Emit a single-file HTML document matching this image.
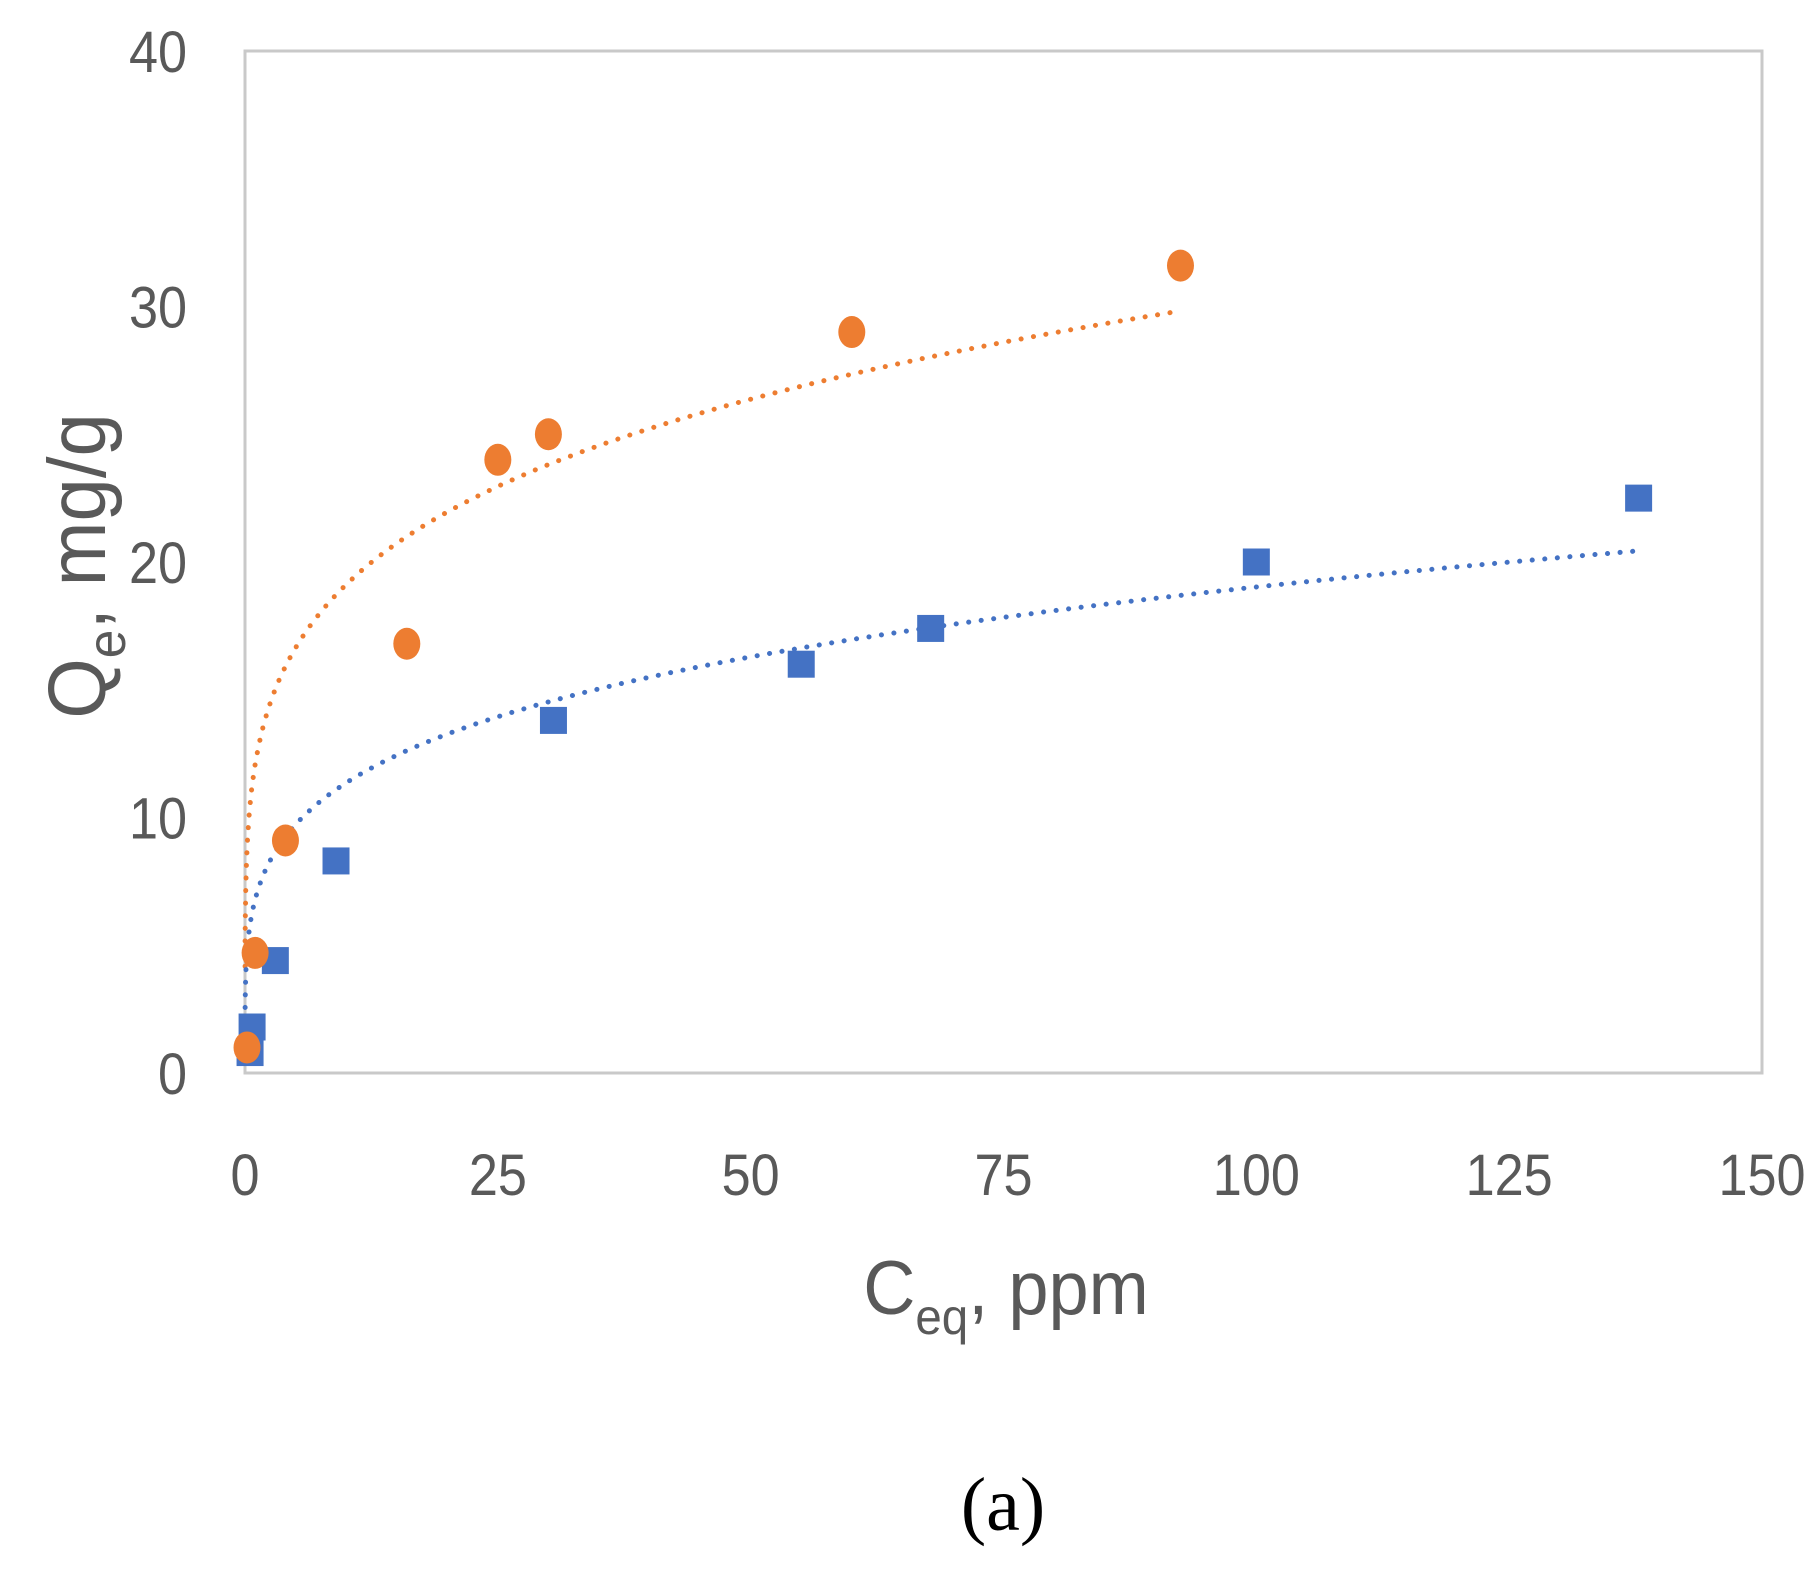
<!DOCTYPE html>
<html><head><meta charset="utf-8">
<style>
html,body{margin:0;padding:0;background:#fff;}
svg{display:block;}
text{font-family:"Liberation Sans",sans-serif;fill:#595959;}
</style></head>
<body>
<svg id="chart" width="1820" height="1571" viewBox="0 0 1820 1571">
  <rect x="245" y="51" width="1517" height="1022" fill="#fff" stroke="#c9c9c9" stroke-width="3"/>
  <g id="yticks"></g>
  <g id="xticks"></g>
  <g id="fits"></g>
  <g id="marks"></g>
  <text transform="translate(1006,1314) scale(0.95,1)" x="0" y="0" font-size="76" text-anchor="middle">C<tspan font-size="50" dy="20">eq</tspan><tspan dy="-20">, ppm</tspan></text>
  <text transform="translate(105,566) rotate(-90) scale(0.95,1)" font-size="82" text-anchor="middle">Q<tspan font-size="54" dy="20">e</tspan><tspan dy="-20">, mg/g</tspan></text>
  <text x="1003" y="1530" font-size="76" text-anchor="middle" style="font-family:'Liberation Serif',serif;fill:#000">(a)</text>
</svg>
<script>
const xTicks = [0, 25, 50, 75, 100, 125, 150];
const yTicks = [0, 10, 20, 30, 40];
const orangeX = [0.2, 1, 4, 16, 25, 30, 60, 92.5];
const orangeY = [1.0, 4.7, 9.1, 16.8, 24.0, 25.0, 29.0, 31.6];
const blueX = [0.5, 0.7, 3, 9, 30.5, 55, 67.8, 100, 137.8];
const blueY = [0.8, 1.8, 4.4, 8.3, 13.8, 16.0, 17.4, 20.0, 22.5];
const orangeFit = [12.06, 0.2];
const blueFit = [6.78, 0.224];

const NS = 'http://www.w3.org/2000/svg';
const X0 = 245, X1 = 1762, Y0 = 1073, Y1 = 51;
const xs = v => X0 + (v - 0) / 150 * (X1 - X0);
const ys = v => Y0 - (v - 0) / 40 * (Y0 - Y1);
function mk(tag, attrs, parent) {
  const e = document.createElementNS(NS, tag);
  for (const k in attrs) e.setAttribute(k, attrs[k]);
  parent.appendChild(e);
  return e;
}
const yg = document.getElementById('yticks');
yTicks.forEach(t => {
  const e = mk('text', {transform: 'translate(187,' + (ys(t) + 21) + ') scale(0.9,1)', 'font-size': 58, 'text-anchor': 'end'}, yg);
  e.textContent = t;
  
  
});
const xg = document.getElementById('xticks');
xTicks.forEach(t => {
  const e = mk('text', {transform: 'translate(' + xs(t) + ',1195) scale(0.9,1)', 'font-size': 58, 'text-anchor': 'middle'}, xg);
  e.textContent = t;
  
  
});
const fg = document.getElementById('fits');
function fit(p, xmax, color, name) {
  let d = '';
  for (let i = 0; i <= 300; i++) {
    const c = 0.005 + (xmax - 0.005) * Math.pow(i / 300, 2);
    const q = p[0] * Math.pow(c, p[1]);
    d += (i ? 'L' : 'M') + xs(c).toFixed(1) + ',' + ys(q).toFixed(1);
  }
  const e = mk('path', {d: d, fill: 'none', stroke: color, 'stroke-width': 5, 'stroke-dasharray': '0.1 12.5', 'stroke-linecap': 'round'}, fg);
  
  
}
fit(orangeFit, orangeX[orangeX.length - 1], '#ED7D31', 'orange-trendline');
fit(blueFit, blueX[blueX.length - 1], '#4472C4', 'blue-trendline');
const mg = document.getElementById('marks');
blueX.forEach((x, i) => {
  const e = mk('rect', {x: xs(x) - 13.5, y: ys(blueY[i]) - 13.5, width: 27, height: 27, fill: '#4472C4'}, mg);
  
  
});
orangeX.forEach((x, i) => {
  const e = mk('ellipse', {cx: xs(x), cy: ys(orangeY[i]), rx: 13.5, ry: 16, fill: '#ED7D31'}, mg);
  
  
});
</script>
</body></html>
